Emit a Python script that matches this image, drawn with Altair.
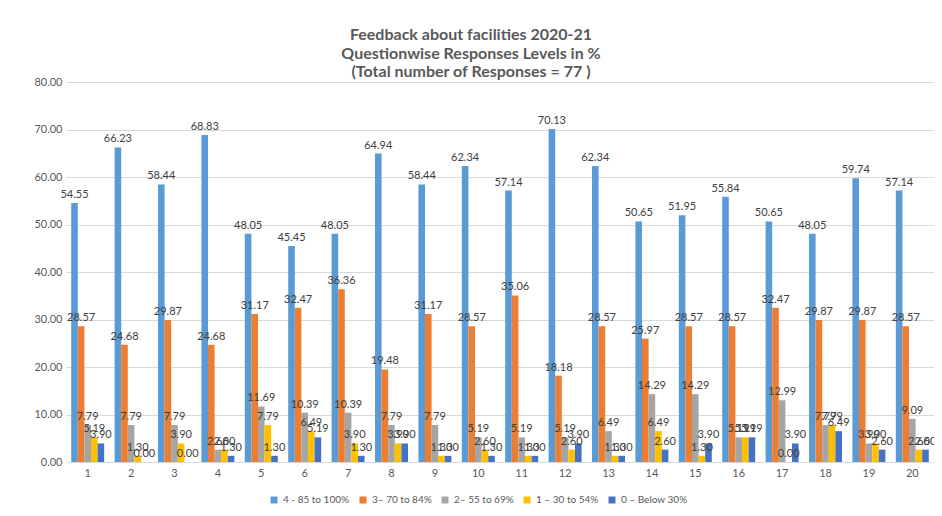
import altair as alt
import pandas as pd

questions = [str(i) for i in range(1, 21)]
series_names = ["4 - 85 to 100%", "3– 70 to 84%", "2– 55 to 69%", "1 – 30 to 54%", "0 – Below 30%"]
colors = ["#5B9BD5", "#ED7D31", "#A5A5A5", "#FFC000", "#4472C4"]

level4 = [54.55, 66.23, 58.44, 68.83, 48.05, 45.45, 48.05, 64.94, 58.44, 62.34,
          57.14, 70.13, 62.34, 50.65, 51.95, 55.84, 50.65, 48.05, 59.74, 57.14]
level3 = [28.57, 24.68, 29.87, 24.68, 31.17, 32.47, 36.36, 19.48, 31.17, 28.57,
          35.06, 18.18, 28.57, 25.97, 28.57, 28.57, 32.47, 29.87, 29.87, 28.57]
level2 = [7.79, 7.79, 7.79, 2.60, 11.69, 10.39, 10.39, 7.79, 7.79, 5.19,
          5.19, 5.19, 6.49, 14.29, 14.29, 5.19, 12.99, 7.79, 3.90, 9.09]
level1 = [5.19, 1.30, 3.90, 2.60, 7.79, 6.49, 3.90, 3.90, 1.30, 2.60,
          1.30, 2.60, 1.30, 6.49, 1.30, 5.19, 0.00, 7.79, 3.90, 2.60]
level0 = [3.90, 0.00, 0.00, 1.30, 1.30, 5.19, 1.30, 3.90, 1.30, 1.30,
          1.30, 3.90, 1.30, 2.60, 3.90, 5.19, 3.90, 6.49, 2.60, 2.60]

all_levels = [level4, level3, level2, level1, level0]
rows = []
for i, q in enumerate(questions):
    for s, vals in zip(series_names, all_levels):
        rows.append({"q": q, "series": s, "value": vals[i]})
df = pd.DataFrame(rows)

x_enc = alt.X(
    "q:N", sort=questions, title=None,
    scale=alt.Scale(paddingInner=0.24, paddingOuter=0.12),
    axis=alt.Axis(labelAngle=0, ticks=False, domainColor="#D9D9D9",
                  labelColor="#595959", labelFontSize=11, labelPadding=5),
)
xoff = alt.XOffset("series:N", sort=series_names, scale=alt.Scale(paddingInner=0, paddingOuter=0))
y_enc = alt.Y(
    "value:Q", title=None,
    scale=alt.Scale(domain=[0, 80], nice=False),
    axis=alt.Axis(values=list(range(0, 81, 10)), format=".2f", grid=True,
                  gridColor="#D9D9D9", domain=False, ticks=False,
                  labelColor="#595959", labelFontSize=11, labelPadding=4),
)
color_enc = alt.Color(
    "series:N", sort=series_names,
    scale=alt.Scale(domain=series_names, range=colors),
    legend=alt.Legend(orient="none", legendX=203, legendY=413, direction="horizontal",
                      title=None, symbolType="square", symbolSize=49, symbolStrokeWidth=0,
                      labelFontSize=10, labelColor="#595959", columnPadding=8, labelOffset=4),
)

base = alt.Chart(df)
bars = base.mark_bar().encode(x=x_enc, xOffset=xoff, y=y_enc, color=color_enc)
labels = base.mark_text(baseline="bottom", dy=-3, fontSize=11, color="#404040").encode(
    x=x_enc, xOffset=xoff, y=y_enc, text=alt.Text("value:Q", format=".2f")
)

chart = (bars + labels).properties(
    width=868, height=380,
    autosize=alt.AutoSizeParams(type="none"),
    padding={"left": 58, "top": 74, "right": 0, "bottom": 46},
    title=alt.TitleParams(
        text=["Feedback about facilities 2020-21", "Questionwise Responses Levels in %",
              "(Total number of Responses = 77 )"],
        fontSize=16, fontWeight="bold", color="#595959", anchor="middle",
        dx=-29, dy=7, offset=3, lineHeight=18.5,
    ),
).configure(font="Lato").configure_view(stroke=None)

chart.save("out.html", embed_options={"renderer": "svg", "actions": False})
